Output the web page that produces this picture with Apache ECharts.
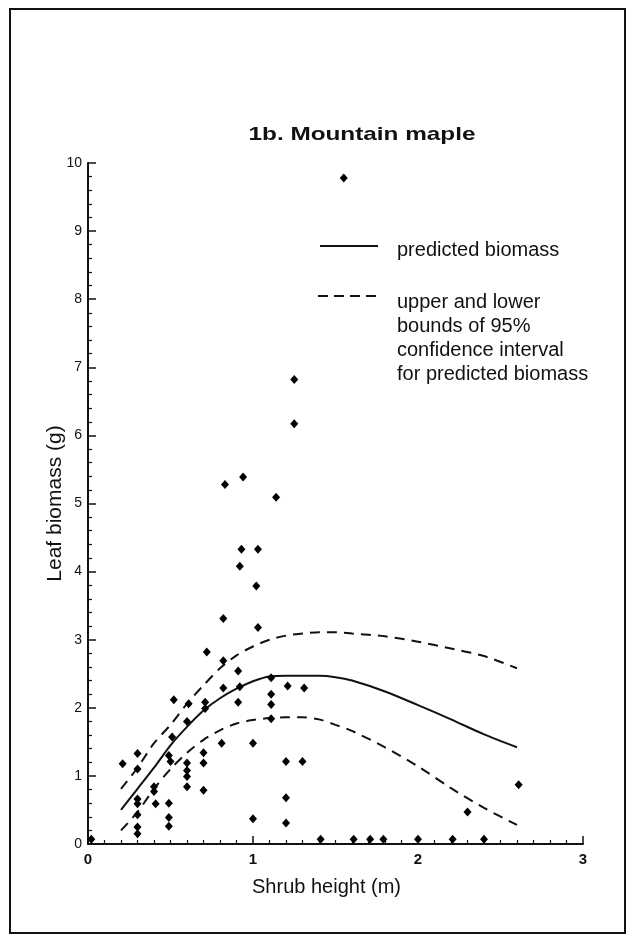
<!DOCTYPE html>
<html>
<head>
<meta charset="utf-8">
<script src="https://cdn.jsdelivr.net/npm/echarts@6/dist/echarts.min.js"></script>
<style>
html,body{margin:0;padding:0;background:#fff;}
#chart{width:629px;height:937px;}
</style>
</head>
<body>
<div id="chart"></div>
<script>
// Observed shrubs: [height (m), leaf biomass (g)]
var observed = [
  [0.02,0.07],
  [0.21,1.18],
  [0.30,1.33],[0.30,1.10],[0.30,0.66],[0.30,0.59],[0.30,0.43],[0.30,0.25],[0.30,0.15],
  [0.40,0.84],[0.40,0.77],[0.41,0.59],
  [0.49,1.30],[0.50,1.21],[0.49,0.60],[0.49,0.39],[0.49,0.26],[0.52,2.12],[0.51,1.57],
  [0.61,2.06],[0.60,1.80],[0.60,1.19],[0.60,1.08],[0.60,0.99],[0.60,0.84],
  [0.72,2.82],[0.71,2.08],[0.71,1.99],[0.70,1.34],[0.70,1.19],[0.70,0.79],
  [0.83,5.28],[0.82,3.31],[0.82,2.69],[0.82,2.29],[0.81,1.48],
  [0.91,2.54],[0.92,2.31],[0.91,2.08],[0.94,5.39],[0.93,4.33],[0.92,4.08],
  [1.00,1.48],[1.00,0.37],[1.03,4.33],[1.02,3.79],[1.03,3.18],
  [1.11,2.44],[1.11,2.20],[1.11,2.05],[1.11,1.84],[1.14,5.09],
  [1.21,2.32],[1.20,1.21],[1.20,0.68],[1.20,0.31],
  [1.25,6.82],[1.25,6.17],
  [1.31,2.29],[1.30,1.21],
  [1.41,0.07],[1.55,9.78],[1.61,0.07],[1.71,0.07],[1.79,0.07],[2.00,0.07],
  [2.21,0.07],[2.30,0.47],[2.40,0.07],[2.61,0.87]
];

// Prediction curve and 95% confidence bounds
var predX     = [0.2,0.3,0.4,0.5,0.6,0.7,0.8,0.9,1.0,1.1,1.2,1.3,1.4,1.5,1.6,1.8,2.0,2.2,2.4,2.6];
var predicted = [0.50,0.81,1.12,1.45,1.72,1.96,2.14,2.28,2.39,2.46,2.47,2.47,2.47,2.45,2.40,2.24,2.04,1.83,1.61,1.42];
var upperCI   = [0.81,1.12,1.48,1.75,2.06,2.33,2.58,2.77,2.90,3.00,3.06,3.09,3.11,3.11,3.09,3.05,2.97,2.87,2.76,2.58];
var lowerCI   = [0.20,0.47,0.81,1.10,1.34,1.53,1.67,1.77,1.82,1.85,1.86,1.86,1.83,1.75,1.66,1.42,1.14,0.82,0.53,0.28];

var xTicks = [0,1,2,3];
var yTicks = [0,1,2,3,4,5,6,7,8,9,10];

var titleText = '1b. Mountain maple';
var legendSolid = 'predicted biomass';
var legendDashed = ['upper and lower','bounds of 95%','confidence interval','for predicted biomass'];

function zip(xs, ys){ return xs.map(function(x,i){ return [x, ys[i]]; }); }

var FONT = "'Liberation Sans', Arial, Helvetica, sans-serif";
var INK = '#111';

var chart = echarts.init(document.getElementById('chart'), null, {renderer:'canvas'});
chart.setOption({
  animation: false,
  backgroundColor: '#fff',
  textStyle: {fontFamily: FONT, color: INK},
  grid: {left: 88, right: 46, top: 163, bottom: 93, containLabel: false},
  xAxis: {
    type: 'value', min: xTicks[0], max: xTicks[xTicks.length-1], interval: 1,
    name: 'Shrub height (m)', nameLocation: 'middle', nameGap: 33, nameMoveOverlap: false,
    nameTextStyle: {fontSize: 20, color: INK, fontFamily: FONT, padding: [0, 18, 0, 0]},
    axisLine: {show: true, lineStyle: {color: INK, width: 2}},
    axisTick: {show: true, inside: true, length: 8, lineStyle: {color: INK, width: 1.5}},
    minorTick: {show: true, splitNumber: 10, length: 4, lineStyle: {color: INK, width: 1.2}},
    axisLabel: {fontSize: 15, fontWeight: 'bold', color: INK, margin: 8, fontFamily: FONT},
    splitLine: {show: false}
  },
  yAxis: {
    type: 'value', min: yTicks[0], max: yTicks[yTicks.length-1], interval: 1,
    name: 'Leaf biomass (g)', nameLocation: 'middle', nameGap: 22, nameRotate: 90, nameMoveOverlap: false,
    nameTextStyle: {fontSize: 21, color: INK, fontFamily: FONT},
    axisLine: {show: true, lineStyle: {color: INK, width: 2}},
    axisTick: {show: true, inside: true, length: 8, lineStyle: {color: INK, width: 1.5}},
    minorTick: {show: true, splitNumber: 5, length: 4, lineStyle: {color: INK, width: 1.2}},
    axisLabel: {fontSize: 14, color: INK, margin: 6, fontFamily: FONT},
    splitLine: {show: false}
  },
  series: [
    {
      type: 'line', data: zip(predX, upperCI), symbol: 'none', smooth: 0.3,
      lineStyle: {color: INK, width: 2, type: [10, 7]}, z: 2
    },
    {
      type: 'line', data: zip(predX, lowerCI), symbol: 'none', smooth: 0.3,
      lineStyle: {color: INK, width: 2, type: [10, 7]}, z: 2
    },
    {
      type: 'line', data: zip(predX, predicted), symbol: 'none', smooth: 0.3,
      lineStyle: {color: INK, width: 2}, z: 2
    },
    {
      type: 'scatter', data: observed, symbol: 'diamond', symbolSize: [8, 9],
      itemStyle: {color: '#000', opacity: 1}, z: 3
    }
  ],
  graphic: [
    {type: 'rect', shape: {x: 10, y: 9, width: 615, height: 924},
     style: {fill: 'none', stroke: INK, lineWidth: 2}, silent: true},
    {type: 'text', x: 362, y: 135, scaleX: 1.28,
     style: {text: titleText, font: 'bold 19px ' + FONT, fill: INK, textAlign: 'center', textVerticalAlign: 'middle'}},
    {type: 'line', shape: {x1: 320, y1: 246, x2: 378, y2: 246},
     style: {stroke: INK, lineWidth: 2}},
    {type: 'text', x: 397, y: 250,
     style: {text: legendSolid, font: '20px ' + FONT, fill: INK, textAlign: 'left', textVerticalAlign: 'middle'}},
    {type: 'line', shape: {x1: 318, y1: 296, x2: 378, y2: 296},
     style: {stroke: INK, lineWidth: 2, lineDash: [10, 6]}},
    {type: 'text', x: 397, y: 290,
     style: {text: legendDashed.join('\n'), font: '20px ' + FONT, lineHeight: 24, fill: INK, textAlign: 'left', textVerticalAlign: 'top'}}
  ]
});
</script>
</body>
</html>
